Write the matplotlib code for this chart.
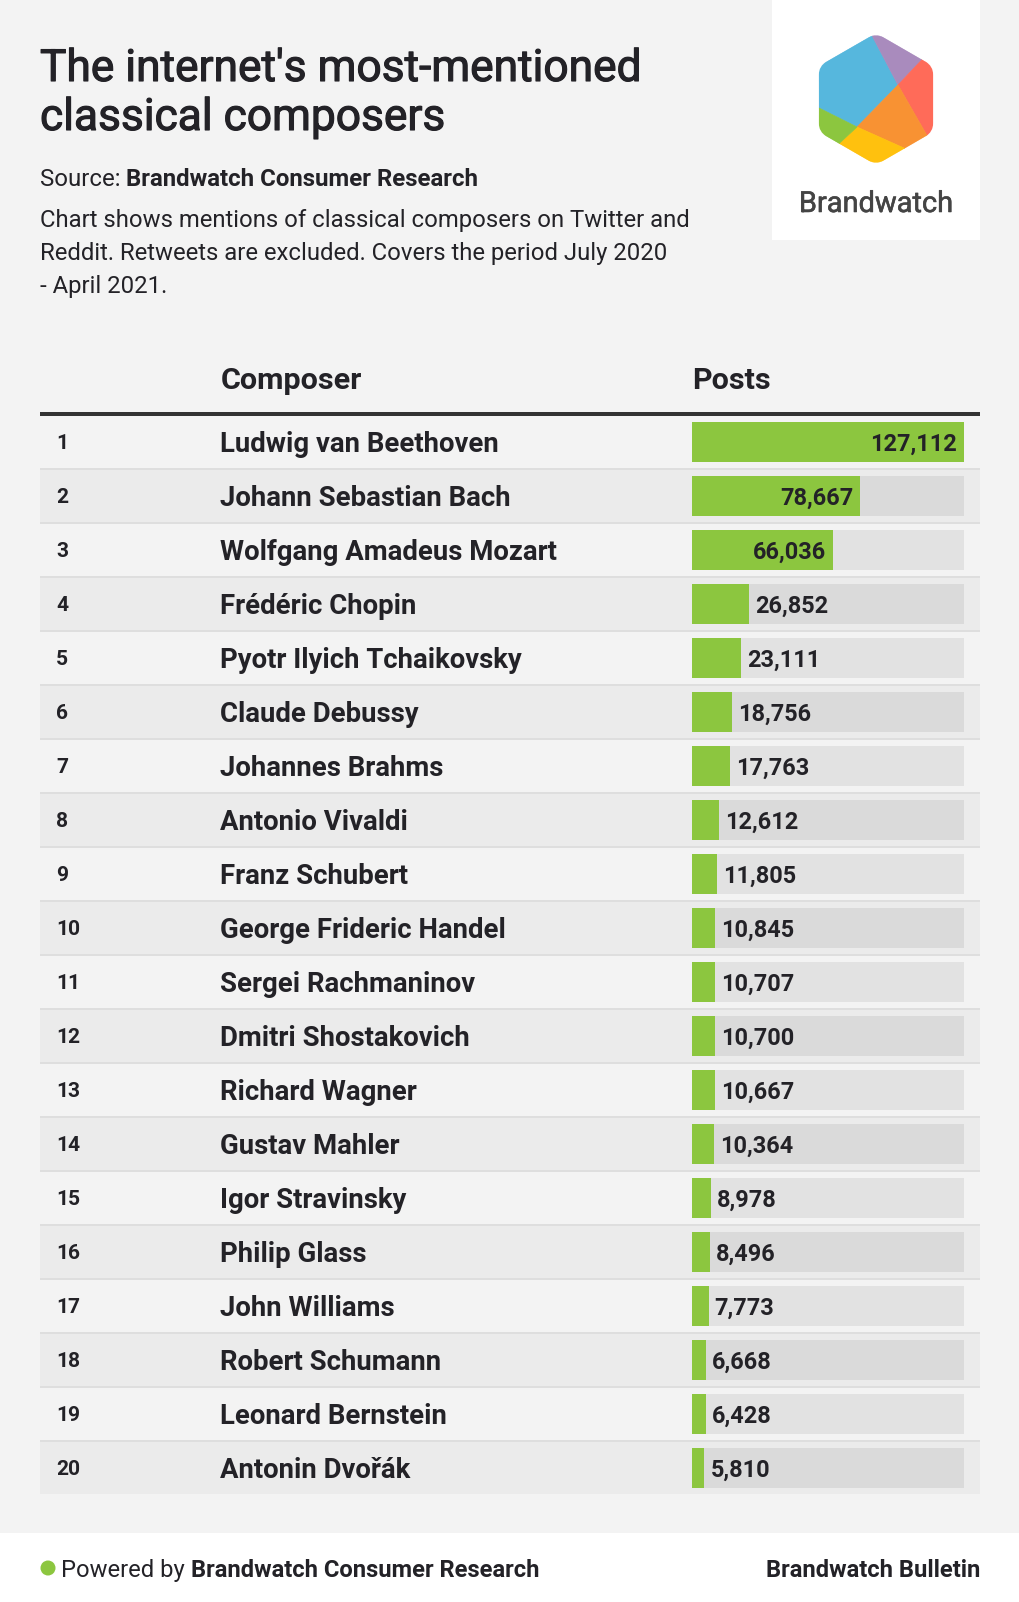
import matplotlib
matplotlib.use("Agg")
import matplotlib.pyplot as plt
import matplotlib.patheffects as pe
from matplotlib.patches import Rectangle, Polygon, PathPatch, Circle
from matplotlib.path import Path
import numpy as np

ranks = list(range(1, 21))
composers = [
    "Ludwig van Beethoven",
    "Johann Sebastian Bach",
    "Wolfgang Amadeus Mozart",
    "Frédéric Chopin",
    "Pyotr Ilyich Tchaikovsky",
    "Claude Debussy",
    "Johannes Brahms",
    "Antonio Vivaldi",
    "Franz Schubert",
    "George Frideric Handel",
    "Sergei Rachmaninov",
    "Dmitri Shostakovich",
    "Richard Wagner",
    "Gustav Mahler",
    "Igor Stravinsky",
    "Philip Glass",
    "John Williams",
    "Robert Schumann",
    "Leonard Bernstein",
    "Antonin Dvořák",
]
posts = [127112, 78667, 66036, 26852, 23111, 18756, 17763, 12612, 11805, 10845,
         10707, 10700, 10667, 10364, 8978, 8496, 7773, 6668, 6428, 5810]

title_lines = ["The internet's most-mentioned", "classical composers"]
desc_lines = [
    "Chart shows mentions of classical composers on Twitter and",
    "Reddit. Retweets are excluded. Covers the period July 2020",
    "- April 2021.",
]

# colours
BG = "#f3f3f3"
ROW_ALT = "#ebebeb"
SEP = "#dedede"
TRACK_ODD = "#e2e2e2"
TRACK_EVEN = "#dadada"
GREEN = "#8cc63f"
DARK = "#232227"

plt.rcParams["font.family"] = ["Roboto", "DejaVu Sans"]

W, H = 1020, 1602
fig = plt.figure(figsize=(W / 100, H / 100), dpi=100)
fig.patch.set_facecolor(BG)
ax = fig.add_axes([0, 0, 1, 1])
ax.set_xlim(0, W)
ax.set_ylim(H, 0)
ax.axis("off")


def px(v):
    # pixel -> points at dpi 100
    return v * 0.72


renderer = fig.canvas.get_renderer()
medium = [pe.withStroke(linewidth=0.8, foreground=DARK)]


def two_part(x, y, first, second, size, w1="normal", w2="bold", color=DARK):
    t = ax.text(x, y, first, fontsize=size, fontweight=w1, color=color, va="baseline")
    bb = t.get_window_extent(renderer=renderer)
    ax.text(x + bb.width, y, second, fontsize=size, fontweight=w2, color=color, va="baseline")


# --- header texts ---
for k, line in enumerate(title_lines):
    ax.text(40, 81 + 49 * k, line, fontsize=px(44.3), color=DARK, va="baseline",
            path_effects=medium)
two_part(40, 186, "Source: ", "Brandwatch Consumer Research", px(24))
for i, line in enumerate(desc_lines):
    ax.text(40, 227 + 33 * i, line, fontsize=px(23.9), color=DARK, va="baseline")

# --- logo box ---
ax.add_patch(Rectangle((772, 0), 208, 240, facecolor="white", edgecolor="none"))
cx, cy, R = 876, 99, 66
hx = R * np.cos(np.pi / 6)
hex_pts = np.array([
    (cx, cy - R), (cx + hx, cy - R / 2), (cx + hx, cy + R / 2),
    (cx, cy + R), (cx - hx, cy + R / 2), (cx - hx, cy - R / 2),
])


def rounded_path(pts, r):
    verts, codes = [], []
    n = len(pts)
    for k in range(n):
        p, v, nx = pts[k - 1], pts[k], pts[(k + 1) % n]
        a = v + (p - v) * r / np.linalg.norm(p - v)
        b = v + (nx - v) * r / np.linalg.norm(nx - v)
        verts += [a, v, b]
        codes += [Path.MOVETO if k == 0 else Path.LINETO, Path.CURVE3, Path.CURVE3]
    verts.append(verts[0])
    codes.append(Path.CLOSEPOLY)
    return Path(verts, codes)


clip = PathPatch(rounded_path(hex_pts, 9), transform=ax.transData,
                 facecolor="none", edgecolor="none")
ax.add_patch(clip)
J1, J2 = (898, 85), (857, 127)
p_bp, p_pr, p_ro = (872, 35.5), (922, 59.6), (927, 135.5)
p_oy, p_gy, p_bg = (905, 148.5), (839, 143.6), (819, 108)
top, ur, lr, bot, ll, ul = [tuple(p) for p in hex_pts]
pieces = [
    ([p_bg, ul, p_bp, J1, J2], "#56b7dd"),
    ([p_bp, top, p_pr, J1], "#a98bbd"),
    ([p_pr, ur, lr, p_ro, J1], "#ff6b59"),
    ([J1, p_ro, p_oy, J2], "#f89233"),
    ([J2, p_oy, bot, p_gy], "#ffc10e"),
    ([p_bg, J2, p_gy, ll], "#8cc63f"),
]
for verts, col in pieces:
    pg = Polygon(verts, closed=True, facecolor=col, edgecolor=col, linewidth=0.5)
    ax.add_patch(pg)
    pg.set_clip_path(clip)
ax.text(876, 212, "Brandwatch", fontsize=px(29), color="#444444", ha="center", va="baseline",
        path_effects=[pe.withStroke(linewidth=0.4, foreground="#444444")])

# --- table ---
TOP = 416
PITCH = 54
ax.text(221, 389, "Composer", fontsize=px(30.5), fontweight="bold", color=DARK, va="baseline")
ax.text(692, 389, "Posts", fontsize=px(30.5), fontweight="bold", color=DARK, va="baseline")
ax.add_patch(Rectangle((40, 411.5), 940, 4.5, facecolor="#333333", edgecolor="none"))

for i, (r, name) in enumerate(zip(ranks, composers)):
    y0 = TOP + PITCH * i
    if i % 2 == 1:
        ax.add_patch(Rectangle((40, y0), 940, 52, facecolor=ROW_ALT, edgecolor="none"))
    if i < len(ranks) - 1:
        ax.add_patch(Rectangle((40, y0 + 52), 940, 2, facecolor=SEP, edgecolor="none"))
    ax.text(56, y0 + 33, str(r), fontsize=px(21), fontweight="bold", color=DARK, va="baseline")
    ax.text(220, y0 + 35.7, name, fontsize=px(27.5), fontweight="bold", color=DARK, va="baseline")

# bar column on its own axes, one unit per row
bx = fig.add_axes([692 / W, (H - (TOP + PITCH * 20)) / H, 272 / W, PITCH * 20 / H])
bx.set_xlim(0, max(posts))
bx.set_ylim(20, 0)
bx.axis("off")
yc = np.arange(20) + 26 / PITCH
track_cols = [TRACK_ODD if i % 2 == 0 else TRACK_EVEN for i in range(20)]
bx.barh(yc, [max(posts)] * 20, height=40 / PITCH, color=track_cols, linewidth=0)
bx.barh(yc, posts, height=40 / PITCH, color=GREEN, linewidth=0)
for i, v in enumerate(posts):
    inside = v / max(posts) > 0.35
    bx.annotate(f"{v:,}", (v, yc[i] + 8.5 / PITCH), xytext=(-5 if inside else 4.3, 0),
                textcoords="offset points", ha="right" if inside else "left",
                va="baseline", fontsize=px(23.5), fontweight="bold", color=DARK)

# --- footer ---
ax.add_patch(Rectangle((0, 1533), W, H - 1533, facecolor="white", edgecolor="none"))
ax.add_patch(Circle((48, 1568), 7.5, facecolor=GREEN, edgecolor="none"))
two_part(61, 1577, "Powered by ", "Brandwatch Consumer Research", px(23.8))
ax.text(980, 1577, "Brandwatch Bulletin", fontsize=px(23.8), fontweight="bold",
        color=DARK, ha="right", va="baseline")

fig.savefig("out.png", dpi=100, facecolor=fig.get_facecolor())
